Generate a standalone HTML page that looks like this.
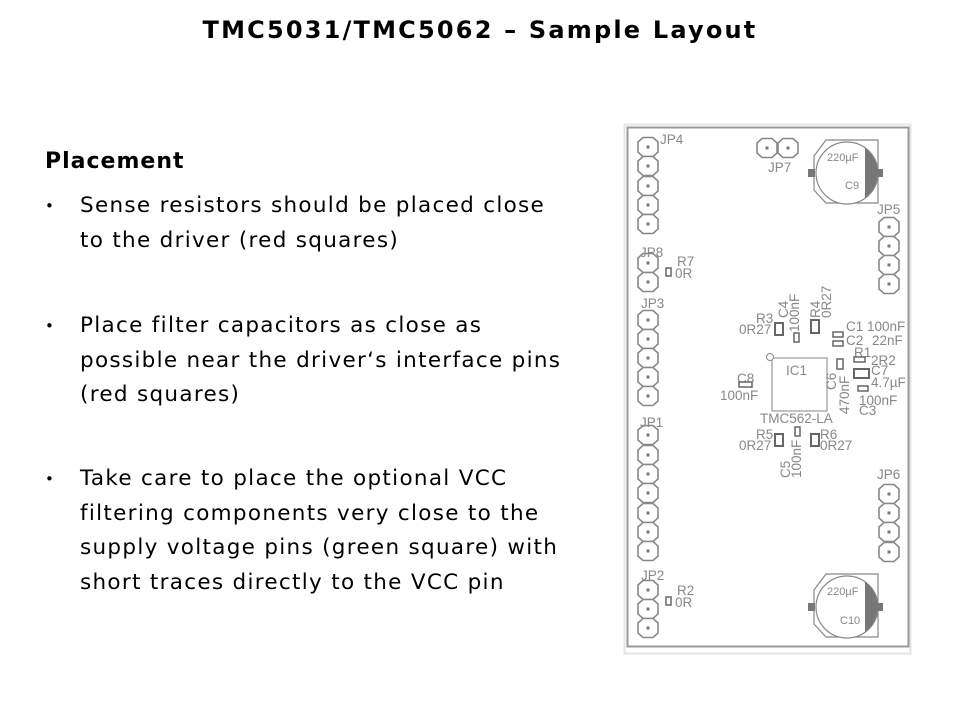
<!DOCTYPE html>
<html><head><meta charset="utf-8"><style>
body{margin:0;width:960px;height:720px;background:#fff;position:relative;font-family:"DejaVu Sans",sans-serif;overflow:hidden}
.t{position:absolute;left:0;width:960px;text-align:center;top:16px;font-weight:bold;font-size:24px;letter-spacing:2.2px;color:#000}
.h{position:absolute;left:45px;top:149px;font-weight:bold;font-size:22px;letter-spacing:1px}
.b{position:absolute;left:80px;font-size:21.5px;letter-spacing:1.3px;line-height:34.5px;color:#000;width:560px;white-space:nowrap}
.b:before{content:"•";position:absolute;left:-35px;font-size:15px}
svg{position:absolute;left:0;top:0}
</style></head><body>
<div class="t">TMC5031/TMC5062 – Sample Layout</div>
<div class="h">Placement</div>
<div class="b" style="top:189px">Sense resistors should be placed close<br>to the driver (red squares)</div>
<div class="b" style="top:309px">Place filter capacitors as close as<br>possible near the driver‘s interface pins<br>(red squares)</div>
<div class="b" style="top:462px">Take care to place the optional VCC<br>filtering components very close to the<br>supply voltage pins (green square) with<br>short traces directly to the VCC pin</div>
<svg width="960" height="720" font-family="Liberation Sans, sans-serif" fill="#888">
<rect x="624.5" y="124.5" width="286" height="529" fill="none" stroke="#e4e4e4" stroke-width="2"/>
<rect x="627.5" y="127.5" width="281" height="519" fill="none" stroke="#999" stroke-width="2"/>
<defs><g id="p"><path d="M-5,-9.5 H5 L10,-5 V5 L5,9.5 H-5 L-10,5 V-5 Z" fill="#fff" stroke="#888" stroke-width="1.6"/><rect x="-1.5" y="-1.5" width="3" height="3" fill="#777"/></g></defs>
<g>
<use href="#p" x="648" y="147"/><use href="#p" x="648" y="166"/><use href="#p" x="648" y="186"/><use href="#p" x="648" y="205"/><use href="#p" x="648" y="224"/>
<use href="#p" x="648" y="263"/><use href="#p" x="648" y="282"/>
<use href="#p" x="648" y="320"/><use href="#p" x="648" y="339"/><use href="#p" x="648" y="358"/><use href="#p" x="648" y="377"/><use href="#p" x="648" y="396"/>
<use href="#p" x="648" y="435"/><use href="#p" x="648" y="455"/><use href="#p" x="648" y="474"/><use href="#p" x="648" y="493"/><use href="#p" x="648" y="513"/><use href="#p" x="648" y="532"/><use href="#p" x="648" y="551"/>
<use href="#p" x="648" y="590"/><use href="#p" x="648" y="609"/><use href="#p" x="648" y="628"/>
<use href="#p" x="889" y="227"/><use href="#p" x="889" y="246"/><use href="#p" x="889" y="265"/><use href="#p" x="889" y="284"/>
<use href="#p" x="889" y="494"/><use href="#p" x="889" y="513"/><use href="#p" x="889" y="532"/><use href="#p" x="889" y="552"/>
<use href="#p" x="767" y="148"/><use href="#p" x="788" y="148"/>
</g>
<g font-size="13.5">
<text x="660" y="144">JP4</text><text x="640" y="257">JP8</text><text x="641" y="308">JP3</text><text x="640" y="427">JP1</text><text x="641" y="580">JP2</text>
<text x="877" y="214">JP5</text><text x="877" y="479">JP6</text><text x="768" y="172">JP7</text>
<text x="677" y="266">R7</text><text x="675" y="278">0R</text><text x="677" y="595">R2</text><text x="675" y="607">0R</text>
</g>
<rect x="666" y="268" width="5" height="8" fill="#fff" stroke="#666" stroke-width="1.5"/>
<rect x="666" y="597" width="5" height="8" fill="#fff" stroke="#666" stroke-width="1.5"/>
<g>
<path d="M814,156 L826,140 H878 V203 H826 L814,190 Z" fill="none" stroke="#888" stroke-width="1.2"/>
<circle cx="847" cy="173" r="31" fill="#fff" stroke="#888" stroke-width="1.2"/>
<path d="M865,148 A31,31 0 0 1 865,198 Z" fill="#777"/>
<rect x="808" y="169" width="7" height="8" fill="#777"/><rect x="876" y="169" width="7" height="8" fill="#777"/>
<text x="827" y="161" font-size="11">220µF</text><text x="845" y="189" font-size="11">C9</text>
</g>
<g>
<path d="M814,590 L826,574 H878 V637 H826 L814,624 Z" fill="none" stroke="#888" stroke-width="1.2"/>
<circle cx="847" cy="607" r="31" fill="#fff" stroke="#888" stroke-width="1.2"/>
<path d="M865,582 A31,31 0 0 1 865,632 Z" fill="#777"/>
<rect x="808" y="603" width="7" height="8" fill="#777"/><rect x="876" y="603" width="7" height="8" fill="#777"/>
<text x="827" y="595" font-size="11">220µF</text><text x="840" y="624" font-size="11">C10</text>
</g>
<rect x="772" y="358" width="55" height="53" fill="none" stroke="#999" stroke-width="1.2"/>
<circle cx="770" cy="357" r="3.5" fill="#fff" stroke="#888"/>
<g font-size="13.5">
<text x="786" y="375">IC1</text><text x="760" y="423">TMC562-LA</text>
<text x="756" y="323">R3</text><text x="739" y="334">0R27</text>
<text x="756" y="439">R5</text><text x="739" y="450">0R27</text>
<text x="820" y="439">R6</text><text x="820" y="450">0R27</text>
<text x="846" y="331">C1 100nF</text><text x="846" y="345">C2</text><text x="872" y="345">22nF</text>
<text x="854" y="357">R1</text><text x="871" y="365">2R2</text>
<text x="871" y="375">C7</text><text x="871" y="387">4.7µF</text>
<text x="859" y="405">100nF</text><text x="859" y="415">C3</text>
<text x="737" y="383">C8</text><text x="720" y="400">100nF</text>
<text transform="translate(788,318) rotate(-90)">C4</text><text transform="translate(799,332) rotate(-90)">100nF</text>
<text transform="translate(820,318) rotate(-90)">R4</text><text transform="translate(831,318) rotate(-90)">0R27</text>
<text transform="translate(836,390) rotate(-90)">C6</text><text transform="translate(849,414) rotate(-90)">470nF</text>
<text transform="translate(790,478) rotate(-90)">C5</text><text transform="translate(801,478) rotate(-90)">100nF</text>
</g>
<g fill="#fff" stroke="#666" stroke-width="2">
<rect x="775" y="323" width="8" height="12"/><rect x="811" y="320" width="8" height="13"/>
<rect x="775" y="434" width="8" height="12"/><rect x="811" y="434" width="8" height="12"/>
<rect x="794" y="333" width="5" height="9" stroke-width="1.5"/><rect x="795" y="427" width="5" height="9" stroke-width="1.5"/>
<rect x="833" y="332" width="10" height="5" stroke-width="1.5"/><rect x="833" y="341" width="10" height="5" stroke-width="1.5"/>
<rect x="854" y="357" width="11" height="5" stroke-width="1.5"/><rect x="837" y="359" width="6" height="10" stroke-width="1.5"/>
<rect x="854" y="369" width="15" height="9"/><rect x="858" y="386" width="10" height="5" stroke-width="1.5"/>
<rect x="739" y="382" width="13" height="5" stroke-width="1.5"/>
</g>
</svg>
</body></html>
